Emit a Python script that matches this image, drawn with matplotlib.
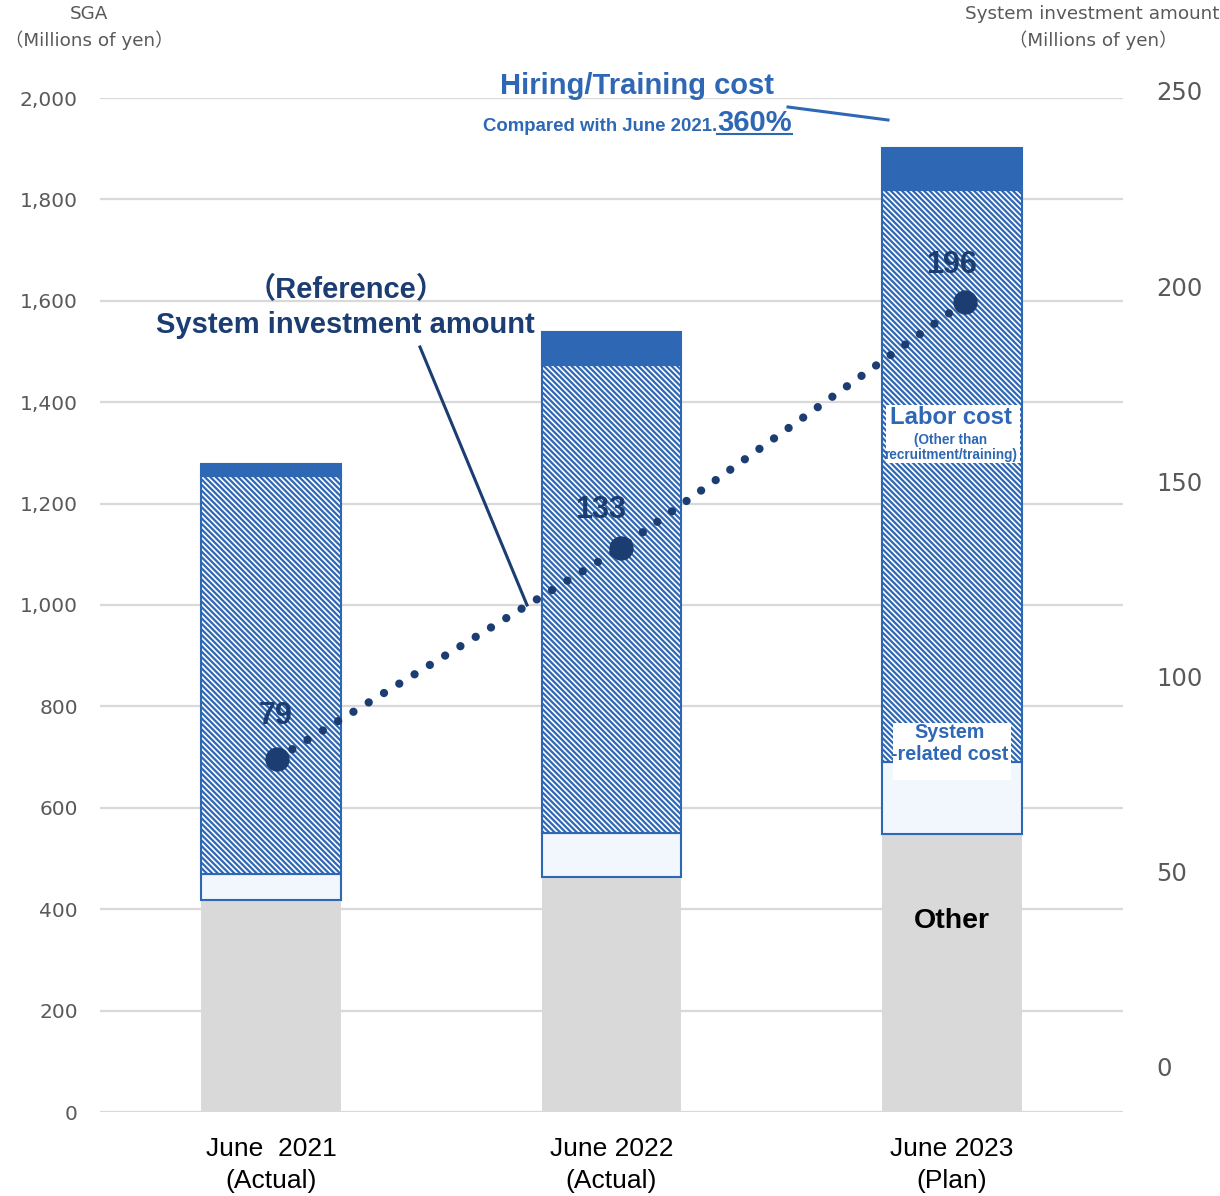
"""
SGA breakdown (stacked bars) with system investment amount on a second axis.
"""
import matplotlib.pyplot as plt
from matplotlib import font_manager
from matplotlib.lines import Line2D
from matplotlib.patches import Rectangle

# data ========
periods = ['June  2021\n(Actual)', 'June 2022\n(Actual)', 'June 2023\n(Plan)']
other = [418, 463, 548]            # Other
system_related = [51, 87, 142]     # System-related cost
labor = [785, 923, 1128]           # Labor cost (other than recruitment/training)
hiring = [24, 65, 83]              # Hiring/Training cost
sys_invest = [79, 133, 196]        # System investment amount (right axis)
sga_ticks = [0, 200, 400, 600, 800, 1000, 1200, 1400, 1600, 1800, 2000]
inv_ticks = [0, 50, 100, 150, 200, 250]
#=======

BLUE = '#2e68b5'
NAVY = '#1b3d72'
GRID = '#d9d9d9'
LABEL = '#595959'

plt.rcParams['font.family'] = ['DejaVu Sans', 'Noto Sans CJK JP']
plt.rcParams['hatch.linewidth'] = 1.6

installed = {f.name for f in font_manager.fontManager.ttflist}
if 'Liberation Sans Narrow' in installed:
    xfont, xsize = 'Liberation Sans Narrow', 23
else:
    xfont, xsize = 'Liberation Sans', 19
ARIAL = ['Liberation Sans', 'Noto Sans CJK JP']

W, H = 1220, 1196
fig = plt.figure(figsize=(W / 100, H / 100), dpi=100)


def fx(px):
    return px / W


def fy(py):
    return 1 - py / H


# bars (left axis)
ax1 = fig.add_axes([fx(100), fy(1112), fx(1123) - fx(100), fy(98) - fy(1112)])
x = list(range(len(periods)))
bw = 0.41
bottom2 = [a + b for a, b in zip(other, system_related)]
bottom3 = [a + b for a, b in zip(bottom2, labor)]

ax1.bar(x, other, bw, color='#d9d9d9', linewidth=0, zorder=2)
ax1.bar(x, system_related, bw, bottom=other, color='#f2f6fd',
        edgecolor=BLUE, linewidth=1.5, zorder=2)
ax1.bar(x, labor, bw, bottom=bottom2, color='white', edgecolor=BLUE,
        hatch='\\\\\\\\\\\\', linewidth=1.5, zorder=2)
ax1.bar(x, hiring, bw, bottom=bottom3, color=BLUE, edgecolor=BLUE,
        linewidth=1.5, zorder=2)

ax1.set_xlim(-0.502, 2.502)
ax1.set_ylim(0, 2000)
ax1.set_yticks(sga_ticks)
ax1.set_yticklabels([f'{v:,}' for v in sga_ticks])
ax1.yaxis.grid(True, color=GRID, linewidth=1.6)
ax1.set_axisbelow(True)
for s in ax1.spines.values():
    s.set_visible(False)
ax1.tick_params(axis='y', length=0, pad=16, labelsize=14.5, labelcolor=LABEL)
ax1.set_xticks(x)
ax1.set_xticklabels(periods, fontfamily=xfont, fontsize=xsize, linespacing=1.4)
ax1.tick_params(axis='x', length=0, pad=18)

# system investment amount (right axis)
ax2 = fig.add_axes([fx(100), fy(1067), fx(1123) - fx(100), fy(91) - fy(1067)])
ax2.patch.set_visible(False)
for s in ax2.spines.values():
    s.set_visible(False)
ax2.set_xlim(-0.5145, 2.459)
ax2.set_ylim(0, 250)
ax2.set_xticks([])
ax2.yaxis.tick_right()
ax2.set_yticks(inv_ticks)
ax2.tick_params(axis='y', length=0, pad=24, labelsize=17.5, labelcolor=LABEL)

ax2.plot(x, sys_invest, color=NAVY, linewidth=6, linestyle=(0, (0.001, 2.15)),
         dash_capstyle='round', zorder=3)
ax2.plot(x, sys_invest, 'o', color=NAVY, markersize=16.5, zorder=4)
offsets = [(-0.7, 30.5), (-14.4, 27.4), (-9.4, 26.6)]
for i, v in enumerate(sys_invest):
    ax2.annotate(str(v), (i, v), xytext=offsets[i], textcoords='offset points',
                 ha='center', va='center', fontsize=22, fontweight='bold',
                 color=NAVY, family=ARIAL)

# axis titles
fig.text(fx(89), fy(14), 'SGA', ha='center', va='center', fontsize=13.2, color=LABEL)
fig.text(fx(89), fy(40), '（Millions of yen）', ha='center', va='center',
         fontsize=13.2, color=LABEL)
fig.text(fx(1092), fy(14), 'System investment amount', ha='center', va='center',
         fontsize=13.2, color=LABEL)
fig.text(fx(1093), fy(40), '（Millions of yen）', ha='center', va='center',
         fontsize=13.2, color=LABEL)

# hiring / training call-out
fig.text(fx(637), fy(86), 'Hiring/Training cost', ha='center', va='center',
         fontsize=21, fontweight='bold', color=BLUE, family=ARIAL)
fig.text(fx(717), fy(131), 'Compared with June 2021.', ha='right', va='baseline',
         fontsize=13.4, fontweight='bold', color=BLUE, family=ARIAL)
fig.text(fx(717), fy(131), '360%', ha='left', va='baseline',
         fontsize=21, fontweight='bold', color=BLUE, family=ARIAL)
fig.add_artist(Line2D([fx(717), fx(792)], [fy(134), fy(134)], lw=1.5,
                      color=BLUE, transform=fig.transFigure))
fig.add_artist(Line2D([fx(788), fx(888)], [fy(107), fy(120)], lw=2.2,
                      color=BLUE, transform=fig.transFigure))

# reference call-out
fig.text(fx(346), fy(290), '（Reference）', ha='center', va='center',
         fontsize=21, fontweight='bold', color=NAVY, family=ARIAL)
fig.text(fx(345), fy(325), 'System investment amount', ha='center', va='center',
         fontsize=21, fontweight='bold', color=NAVY, family=ARIAL)
fig.add_artist(Line2D([fx(420), fx(527)], [fy(347), fy(605)], lw=2.2,
                      color=NAVY, transform=fig.transFigure))

# segment labels
fig.add_artist(Rectangle((fx(886), fy(463)), fx(1020) - fx(886), fy(405) - fy(463),
                         transform=fig.transFigure, facecolor='white',
                         edgecolor='none', zorder=1.5))
fig.text(fx(951), fy(418), 'Labor cost', ha='center', va='center',
         fontsize=17.2, fontweight='bold', color=BLUE, family=ARIAL)
fig.text(fx(951), fy(440), '(Other than', ha='center', va='center',
         fontsize=9.8, fontweight='bold', color=BLUE, family=ARIAL)
fig.text(fx(951), fy(455), 'recruitment/training)', ha='center', va='center',
         fontsize=9.8, fontweight='bold', color=BLUE, family=ARIAL)

fig.add_artist(Rectangle((fx(893), fy(780)), fx(1011) - fx(893), fy(723) - fy(780),
                         transform=fig.transFigure, facecolor='white',
                         edgecolor='none', zorder=1.5))
fig.text(fx(950), fy(733), 'System', ha='center', va='center',
         fontsize=14.2, fontweight='bold', color=BLUE, family=ARIAL)
fig.text(fx(950), fy(755), '-related cost', ha='center', va='center',
         fontsize=14.2, fontweight='bold', color=BLUE, family=ARIAL)

fig.text(fx(952), fy(921), 'Other', ha='center', va='center',
         fontsize=20.5, fontweight='bold', color='black', family=ARIAL)

fig.savefig('out.png', dpi=100)
